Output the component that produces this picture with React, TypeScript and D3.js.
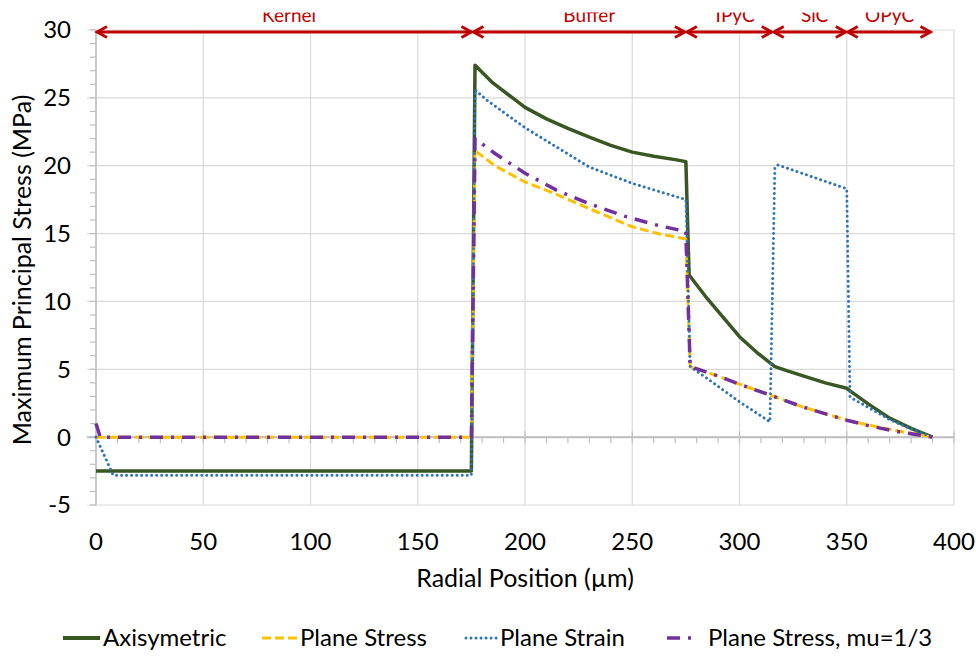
import React from "react";
import * as d3 from "d3";

// ---------- data ----------
const xTicks = [0, 50, 100, 150, 200, 250, 300, 350, 400];
const yTicks = [-5, 0, 5, 10, 15, 20, 25, 30];

const axiX = [0, 175, 176.7, 185, 195, 200, 210, 220, 230, 240, 250, 260, 270, 275, 276.5, 285, 292, 300, 308, 316.5, 322, 330, 340, 350, 352, 360, 370, 380, 390];
const axiY = [-2.5, -2.5, 27.4, 26.1, 24.9, 24.3, 23.45, 22.75, 22.1, 21.5, 21.0, 20.7, 20.45, 20.3, 11.95, 10.2, 8.9, 7.4, 6.25, 5.2, 4.9, 4.5, 4.0, 3.6, 3.35, 2.45, 1.4, 0.65, 0];

const psX = [0, 175, 176.7, 186, 200, 213, 232, 250, 262, 275, 277, 290, 300, 316, 330, 350, 360, 372, 382, 390];
const psY = [0, 0, 21.1, 20.0, 18.8, 18.0, 16.7, 15.5, 15.0, 14.6, 5.2, 4.5, 3.9, 3.0, 2.2, 1.25, 0.9, 0.5, 0.25, 0];

const pnX = [0, 8, 175, 176.7, 182, 200, 230, 250, 275, 277, 286, 300, 314.2, 316.5, 318, 350, 351.5, 360, 370, 380, 390];
const pnY = [0, -2.8, -2.8, 25.6, 24.85, 22.8, 19.9, 18.7, 17.5, 5.2, 4.2, 2.6, 1.13, 19.9, 20.05, 18.3, 2.95, 2.2, 1.3, 0.6, 0];

const pmX = [0, 2, 175, 176.7, 186, 200, 214.7, 230, 246, 262, 275, 277, 290, 300, 316, 330, 350, 360, 372, 382, 390];
const pmY = [1.0, 0, 0, 22.0, 20.9, 19.45, 18.2, 17.2, 16.3, 15.6, 15.15, 5.2, 4.5, 3.9, 3.0, 2.2, 1.25, 0.85, 0.45, 0.2, 0];

const seriesNames = ["Axisymetric", "Plane Stress", "Plane Strain", "Plane Stress, mu=1/3"];

const layerNames = ["Kernel", "Buffer", "IPyC", "SiC", "OPyC"];
const layerStart = [0, 175.5, 275, 315.5, 350];
const layerEnd = [175.5, 275, 315.5, 350, 389.5];
const layerLabelX = [90, 230, 298, 335, 370];

// ---------- layout / style ----------
const W = 976;
const H = 656;
const FONT = "Lato, 'Open Sans', sans-serif";
const RED = "#c00000";

const styles = [
  { color: "#385723", width: 3.5, dash: "none", cap: "butt" },
  { color: "#ffc000", width: 3, dash: "9,4", cap: "butt" },
  { color: "#2e75b6", width: 3, dash: "0.01,5", cap: "round" },
  { color: "#7030a0", width: 3.5, dash: "13,8,3,8", cap: "butt" },
];

const legendLayout = [
  { x0: 63, x1: 100, tx: 103 },
  { x0: 262, x1: 297, tx: 300 },
  { x0: 466, x1: 497, tx: 500 },
  { x0: 667, x1: 693, tx: 708 },
];

export default function App() {
  const x = d3.scaleLinear().domain([0, 400]).range([96, 954]);
  const y = d3.scaleLinear().domain([-5, 30]).range([505, 30]);

  const line = d3
    .line<[number, number]>()
    .x((d) => x(d[0]))
    .y((d) => y(d[1]));

  const series = [
    [axiX, axiY],
    [psX, psY],
    [pnX, pnY],
    [pmX, pmY],
  ].map(([xs, ys]) => xs.map((v, i) => [v, ys[i]] as [number, number]));

  const minorX = d3.range(0, 401, 10);
  const minorY = d3.range(-5, 31, 1);
  const y0 = y(0);
  const arrowY = 32;

  return (
    <svg
      width={W}
      height={H}
      style={{ position: "absolute", left: 0, top: 0, background: "#fff" }}
      fontFamily={FONT}
    >
      <defs>
        <clipPath id="topclip">
          <rect x={0} y={12.5} width={W} height={40} />
        </clipPath>
      </defs>
      <rect x={0} y={0} width={W} height={H} fill="#fff" />

      {/* gridlines */}
      {xTicks.map((t) => (
        <line key={"gx" + t} x1={x(t)} x2={x(t)} y1={y(30)} y2={y(-5)} stroke="#d9d9d9" strokeWidth={1.2} />
      ))}
      {yTicks.map((t) => (
        <line key={"gy" + t} x1={x(0) - 9} x2={x(400)} y1={y(t)} y2={y(t)} stroke="#d9d9d9" strokeWidth={1.2} />
      ))}

      {/* y axis */}
      <line x1={x(0)} x2={x(0)} y1={y(30)} y2={y(-5)} stroke="#bfbfbf" strokeWidth={1.5} />
      {minorY.map((t) => (
        <line key={"my" + t} x1={x(0) - 6} x2={x(0)} y1={y(t)} y2={y(t)} stroke="#bfbfbf" strokeWidth={1.2} />
      ))}
      {/* x axis at 0 */}
      <line x1={x(0) - 9} x2={x(400)} y1={y0} y2={y0} stroke="#bfbfbf" strokeWidth={2} />
      {minorX.map((t) => (
        <line key={"mx" + t} x1={x(t)} x2={x(t)} y1={t % 50 === 0 ? y0 - 6 : y0} y2={y0 + 6} stroke="#bfbfbf" strokeWidth={1.2} />
      ))}

      {/* tick labels */}
      {xTicks.map((t) => (
        <text key={"tx" + t} x={x(t)} y={550} textAnchor="middle" fontSize={24} fill="#000">
          {t}
        </text>
      ))}
      {yTicks.map((t) => (
        <text key={"ty" + t} x={71} y={y(t)} dy="0.35em" textAnchor="end" fontSize={24} fill="#000">
          {t}
        </text>
      ))}

      {/* axis titles */}
      <text x={525} y={587} textAnchor="middle" fontSize={25} fill="#000">
        Radial Position (µm)
      </text>
      <text
        transform={`translate(31,${270}) rotate(-90)`}
        textAnchor="middle"
        fontSize={25}
        fill="#000"
      >
        Maximum Principal Stress (MPa)
      </text>

      {/* series */}
      {series.map((pts, i) => (
        <path
          key={"s" + i}
          d={line(pts) || ""}
          fill="none"
          stroke={styles[i].color}
          strokeWidth={styles[i].width}
          strokeDasharray={styles[i].dash}
          strokeLinecap={styles[i].cap as any}
          strokeLinejoin="round"
        />
      ))}

      {/* layer annotations */}
      {layerNames.map((name, i) => {
        const a = x(layerStart[i]) + 1;
        const b = x(layerEnd[i]) - 1;
        return (
          <g key={"layer" + i} stroke={RED} strokeWidth={2.8} fill="none">
            <line x1={a} x2={b} y1={arrowY} y2={arrowY} />
            <path d={`M${a + 10},${arrowY - 5.5} L${a},${arrowY} L${a + 10},${arrowY + 5.5}`} strokeLinejoin="miter" />
            <path d={`M${b - 10},${arrowY - 5.5} L${b},${arrowY} L${b - 10},${arrowY + 5.5}`} strokeLinejoin="miter" />
          </g>
        );
      })}
      <g clipPath="url(#topclip)">
        {layerNames.map((name, i) => (
          <text key={"lt" + i} x={x(layerLabelX[i])} y={22} textAnchor="middle" fontSize={19} fill={RED}>
            {name}
          </text>
        ))}
      </g>

      {/* legend */}
      {seriesNames.map((name, i) => {
        const L = legendLayout[i];
        const ly = 638;
        return (
          <g key={"lg" + i}>
            <line
              x1={L.x0}
              x2={L.x1}
              y1={ly}
              y2={ly}
              stroke={styles[i].color}
              strokeWidth={i === 0 ? 4 : styles[i].width}
              strokeDasharray={styles[i].dash}
              strokeLinecap={styles[i].cap as any}
            />
            <text x={L.tx} y={646} fontSize={24} fill="#000">
              {name}
            </text>
          </g>
        );
      })}
    </svg>
  );
}
